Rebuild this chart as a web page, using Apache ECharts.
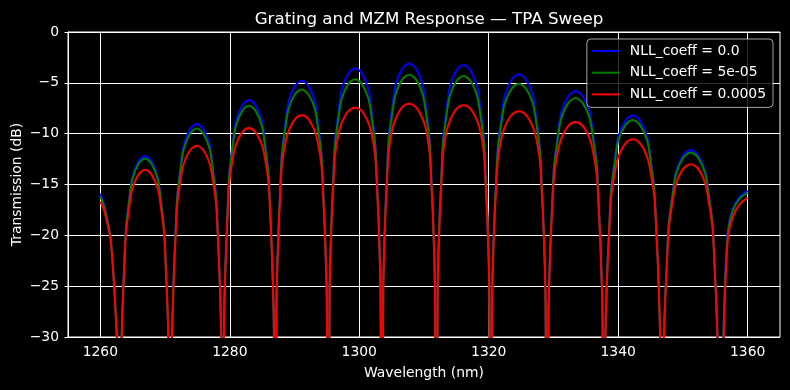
<!DOCTYPE html>
<html><head><meta charset="utf-8">
<script src="https://cdn.jsdelivr.net/npm/echarts@6/dist/echarts.min.js"></script>
<style>html,body{margin:0;padding:0;background:#000}#c{width:790px;height:390px}</style>
</head><body><div id="c"></div>
<script>
// Wavelength samples (nm)
const wavelength = [
  1260, 1260.6, 1261.1, 1261.55, 1261.95, 1262.3, 1262.6, 1262.95,
  1263.15, 1263.42, 1263.66, 1263.94, 1264.43, 1264.93, 1265.91, 1266.9, 1267.89, 1268.88, 1269.37, 1269.86, 1270.14, 1270.38, 1270.65, 1270.85,
  1271.05, 1271.33, 1271.58, 1271.86, 1272.36, 1272.87, 1273.87, 1274.88, 1275.89, 1276.9, 1277.4, 1277.9, 1278.18, 1278.43, 1278.71, 1278.9,
  1279.1, 1279.39, 1279.63, 1279.91, 1280.42, 1280.92, 1281.94, 1282.95, 1283.96, 1284.98, 1285.48, 1285.99, 1286.27, 1286.51, 1286.8, 1287.0,
  1287.2, 1287.49, 1287.74, 1288.02, 1288.54, 1289.05, 1290.07, 1291.1, 1292.13, 1293.15, 1293.66, 1294.18, 1294.46, 1294.71, 1295.0, 1295.2,
  1295.41, 1295.7, 1295.95, 1296.24, 1296.76, 1297.27, 1298.31, 1299.35, 1300.39, 1301.43, 1301.94, 1302.46, 1302.75, 1303.0, 1303.29, 1303.5,
  1303.71, 1304.0, 1304.26, 1304.55, 1305.07, 1305.6, 1306.65, 1307.7, 1308.75, 1309.8, 1310.33, 1310.85, 1311.14, 1311.4, 1311.69, 1311.9,
  1312.11, 1312.4, 1312.66, 1312.95, 1313.47, 1314.0, 1315.05, 1316.1, 1317.15, 1318.2, 1318.73, 1319.25, 1319.54, 1319.8, 1320.09, 1320.3,
  1320.52, 1320.82, 1321.08, 1321.39, 1321.93, 1322.47, 1323.56, 1324.65, 1325.74, 1326.83, 1327.37, 1327.91, 1328.22, 1328.48, 1328.78, 1329.0,
  1329.22, 1329.53, 1329.79, 1330.1, 1330.65, 1331.2, 1332.3, 1333.4, 1334.5, 1335.6, 1336.15, 1336.7, 1337.01, 1337.27, 1337.58, 1337.8,
  1338.02, 1338.33, 1338.6, 1338.91, 1339.47, 1340.02, 1341.14, 1342.25, 1343.36, 1344.48, 1345.03, 1345.59, 1345.9, 1346.17, 1346.48, 1346.7,
  1346.92, 1347.24, 1347.51, 1347.82, 1348.39, 1348.95, 1350.07, 1351.2, 1352.33, 1353.45, 1354.01, 1354.58, 1354.89, 1355.16, 1355.48, 1355.7,
  1355.9, 1356.3, 1356.55, 1357.0, 1357.7, 1358.75, 1360
];
// Transmission (dB), NLL_coeff = 0.0
const nll0 = [
  -15.9, -17.0, -18.5, -20.0, -23.0, -26.8, -31.0, -60,
  -34.2, -27.2, -23.4, -19.4, -16.6, -14.3, -12.7, -12.2, -12.7, -14.3, -16.6, -19.4, -23.4, -27.2, -34.2, -60,
  -31.05, -24.05, -20.25, -16.25, -13.45, -11.15, -9.55, -9.05, -9.55, -11.15, -13.45, -16.25, -20.25, -24.05, -31.05, -60,
  -28.7, -21.7, -17.9, -13.9, -11.1, -8.8, -7.2, -6.7, -7.2, -8.8, -11.1, -13.9, -17.9, -21.7, -28.7, -60,
  -26.8, -19.8, -16.0, -12.0, -9.2, -6.9, -5.3, -4.8, -5.3, -6.9, -9.2, -12.0, -16.0, -19.8, -26.8, -60,
  -25.57, -18.57, -14.77, -10.77, -7.97, -5.67, -4.07, -3.57, -4.07, -5.67, -7.97, -10.77, -14.77, -18.57, -25.57, -60,
  -25.1, -18.1, -14.3, -10.3, -7.5, -5.2, -3.6, -3.1, -3.6, -5.2, -7.5, -10.3, -14.3, -18.1, -25.1, -60,
  -25.25, -18.25, -14.45, -10.45, -7.65, -5.35, -3.75, -3.25, -3.75, -5.35, -7.65, -10.45, -14.45, -18.25, -25.25, -60,
  -26.15, -19.15, -15.35, -11.35, -8.55, -6.25, -4.65, -4.15, -4.65, -6.25, -8.55, -11.35, -15.35, -19.15, -26.15, -60,
  -27.8, -20.8, -17.0, -13.0, -10.2, -7.9, -6.3, -5.8, -6.3, -7.9, -10.2, -13.0, -17.0, -20.8, -27.8, -60,
  -30.2, -23.2, -19.4, -15.4, -12.6, -10.3, -8.7, -8.2, -8.7, -10.3, -12.6, -15.4, -19.4, -23.2, -30.2, -60,
  -33.6, -26.6, -22.8, -18.8, -16.0, -13.7, -12.1, -11.6, -12.1, -13.7, -16.0, -18.8, -22.8, -26.6, -33.6, -60,
  -38, -28.5, -23.8, -19.2, -17.4, -16.2, -15.6
];
// Transmission (dB), NLL_coeff = 5e-05
const nll5e5 = [
  -16.2, -17.2, -18.6, -20.1, -23.1, -26.9, -31.1, -60,
  -34.22, -27.23, -23.45, -19.5, -16.74, -14.51, -12.94, -12.45, -12.94, -14.51, -16.74, -19.5, -23.45, -27.23, -34.22, -60,
  -31.08, -24.1, -20.34, -16.42, -13.7, -11.53, -9.98, -9.5, -9.98, -11.53, -13.7, -16.42, -20.34, -24.1, -31.08, -60,
  -28.73, -21.77, -18.01, -14.11, -11.4, -9.27, -7.73, -7.25, -7.73, -9.27, -11.4, -14.11, -18.01, -21.77, -28.73, -60,
  -26.85, -19.9, -16.17, -12.32, -9.67, -7.62, -6.12, -5.65, -6.12, -7.62, -9.67, -12.32, -16.17, -19.9, -26.85, -60,
  -25.63, -18.7, -14.99, -11.18, -8.56, -6.59, -5.11, -4.65, -5.11, -6.59, -8.56, -11.18, -14.99, -18.7, -25.63, -60,
  -25.17, -18.23, -14.52, -10.72, -8.11, -6.14, -4.66, -4.2, -4.66, -6.14, -8.11, -10.72, -14.52, -18.23, -25.17, -60,
  -25.31, -18.38, -14.67, -10.86, -8.24, -6.27, -4.79, -4.33, -4.79, -6.27, -8.24, -10.86, -14.67, -18.38, -25.31, -60,
  -26.21, -19.26, -15.54, -11.71, -9.07, -7.06, -5.56, -5.1, -5.56, -7.06, -9.07, -11.71, -15.54, -19.26, -26.21, -60,
  -27.84, -20.88, -17.14, -13.27, -10.59, -8.5, -6.97, -6.5, -6.97, -8.5, -10.59, -13.27, -17.14, -20.88, -27.84, -60,
  -30.23, -23.25, -19.49, -15.57, -12.85, -10.68, -9.13, -8.65, -9.13, -10.68, -12.85, -15.57, -19.49, -23.25, -30.23, -60,
  -33.62, -26.63, -22.85, -18.9, -16.14, -13.91, -12.34, -11.85, -12.34, -13.91, -16.14, -18.9, -22.85, -26.63, -33.62, -60,
  -38.5, -29, -24.2, -19.5, -17.6, -16.4, -15.8
];
// Transmission (dB), NLL_coeff = 0.0005
const nll5e4 = [
  -16.7, -17.6, -18.9, -20.3, -23.3, -27.0, -31.2, -60,
  -34.28, -27.36, -23.67, -19.91, -17.34, -15.45, -14.0, -13.55, -14.0, -15.45, -17.34, -19.91, -23.67, -27.36, -34.28, -60,
  -31.18, -24.31, -20.68, -17.07, -14.63, -12.98, -11.61, -11.2, -11.61, -12.98, -14.63, -17.07, -20.68, -24.31, -31.18, -60,
  -28.87, -22.03, -18.45, -14.95, -12.61, -11.14, -9.84, -9.45, -9.84, -11.14, -12.61, -14.95, -18.45, -22.03, -28.87, -60,
  -27.0, -20.21, -16.68, -13.29, -11.07, -9.79, -8.56, -8.2, -8.56, -9.79, -11.07, -13.29, -16.68, -20.21, -27.0, -60,
  -25.8, -19.04, -15.55, -12.24, -10.1, -8.97, -7.79, -7.45, -7.79, -8.97, -10.1, -12.24, -15.55, -19.04, -25.8, -60,
  -25.34, -18.57, -15.09, -11.8, -9.67, -8.56, -7.39, -7.05, -7.39, -8.56, -9.67, -11.8, -15.09, -18.57, -25.34, -60,
  -25.49, -18.72, -15.24, -11.95, -9.82, -8.71, -7.54, -7.2, -7.54, -8.71, -9.82, -11.95, -15.24, -18.72, -25.49, -60,
  -26.37, -19.59, -16.08, -12.74, -10.56, -9.35, -8.15, -7.8, -8.15, -9.35, -10.56, -12.74, -16.08, -19.59, -26.37, -60,
  -27.98, -21.17, -17.61, -14.16, -11.88, -10.49, -9.23, -8.85, -9.23, -10.49, -11.88, -14.16, -17.61, -21.17, -27.98, -60,
  -30.34, -23.48, -19.87, -16.29, -13.89, -12.3, -10.96, -10.55, -10.96, -12.3, -13.89, -16.29, -19.87, -23.48, -30.34, -60,
  -33.68, -26.77, -23.08, -19.33, -16.77, -14.89, -13.44, -13.0, -13.44, -14.89, -16.77, -19.33, -23.08, -26.77, -33.68, -60,
  -40, -30, -25, -20, -18.2, -16.95, -16.3
];
const seriesNames = ['NLL_coeff = 0.0', 'NLL_coeff = 5e-05', 'NLL_coeff = 0.0005'];
const seriesColors = ['#0000ff', '#008000', '#ff0000'];
const xTicks = [1260, 1280, 1300, 1320, 1340, 1360];
const yTicks = [-30, -25, -20, -15, -10, -5, 0];

const FONT = 'DejaVu Sans';
const values = [nll0, nll5e5, nll5e4];
const fmtNum = v => (v < 0 ? '\u2212' + Math.abs(v) : String(v));

const chart = echarts.init(document.getElementById('c'), null, {renderer: 'canvas'});
chart.setOption({
  backgroundColor: '#000000',
  animation: false,
  title: {
    text: 'Grating and MZM Response \u2014 TPA Sweep',
    left: 424, top: 6, textAlign: 'center',
    textStyle: {color: '#ffffff', fontSize: 16.7, fontWeight: 'normal', fontFamily: FONT}
  },
  grid: {left: 68, right: 10, top: 32, bottom: 53, show: true, borderColor: '#ffffff', borderWidth: 1,
    backgroundColor: 'transparent', containLabel: false, outerBoundsMode: 'none'},
  legend: {
    data: seriesNames,
    orient: 'vertical', right: 17, top: 39,
    icon: 'rect', itemWidth: 28, itemHeight: 2, itemGap: 5.7,
    backgroundColor: 'rgba(0,0,0,0.8)', borderColor: 'rgba(204,204,204,0.8)', borderWidth: 1, borderRadius: 4,
    padding: [4, 7, 5, 5],
    textStyle: {color: '#ffffff', fontSize: 13.9, fontFamily: FONT, lineHeight: 16, padding: [0, 0, 0, 5]}
  },
  xAxis: {
    type: 'value', min: 1255, max: 1365,
    name: 'Wavelength (nm)', nameLocation: 'middle', nameGap: 29,
    nameTextStyle: {color: '#ffffff', fontSize: 13.9, fontFamily: FONT},
    axisLine: {show: true, lineStyle: {color: '#ffffff', width: 1}},
    axisTick: {show: true, inside: false, length: 3.5, lineStyle: {color: '#ffffff'}, customValues: xTicks},
    axisLabel: {color: '#ffffff', fontSize: 13.9, fontFamily: FONT, margin: 8, customValues: xTicks, formatter: fmtNum},
    splitLine: {show: true, lineStyle: {color: '#ffffff', width: 1}}
  },
  yAxis: {
    type: 'value', min: -30, max: 0, interval: 5,
    name: 'Transmission (dB)', nameLocation: 'middle', nameGap: 44, nameMoveOverlap: false,
    nameTextStyle: {color: '#ffffff', fontSize: 13.9, fontFamily: FONT},
    axisLine: {show: true, lineStyle: {color: '#ffffff', width: 1}},
    axisTick: {show: true, inside: false, length: 3.5, lineStyle: {color: '#ffffff'}, customValues: yTicks},
    axisLabel: {color: '#ffffff', fontSize: 13.9, fontFamily: FONT, margin: 9, customValues: yTicks, formatter: fmtNum},
    splitLine: {show: true, lineStyle: {color: '#ffffff', width: 1}}
  },
  series: values.map((vals, k) => ({
    name: seriesNames[k],
    type: 'line',
    data: wavelength.map((w, i) => [w, vals[i]]),
    showSymbol: false, symbol: 'none',
    smooth: 0.3,
    clip: true,
    color: seriesColors[k],
    lineStyle: {color: seriesColors[k], width: 2},
    emphasis: {disabled: true}
  }))
});
</script>
</body></html>
